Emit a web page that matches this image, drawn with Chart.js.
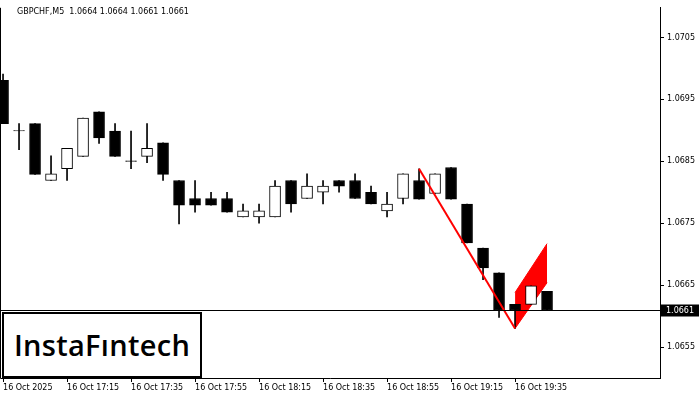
<!DOCTYPE html>
<html><head><meta charset="utf-8">
<script src="https://cdn.jsdelivr.net/npm/chart.js@4/dist/chart.umd.min.js"></script>
<style>
html,body{margin:0;padding:0;background:#fff;}
#wrap{position:relative;width:700px;height:400px;}
#logo{position:absolute;left:2px;top:312px;width:196px;height:62px;border:2px solid #000;background:#fff;
font-family:"Open Sans",sans-serif;font-weight:600;font-size:29px;line-height:62px;text-align:center;color:#000;letter-spacing:0.3px;}
</style></head><body>
<div id="wrap"><canvas id="c" width="700" height="400"></canvas><div id="logo">InstaFıntech</div></div>
<script>
const title = "GBPCHF,M5  1.0664 1.0664 1.0661 1.0661";
const timeLabels = {0:"16 Oct 2025",4:"16 Oct 17:15",8:"16 Oct 17:35",12:"16 Oct 17:55",16:"16 Oct 18:15",20:"16 Oct 18:35",24:"16 Oct 18:55",28:"16 Oct 19:15",32:"16 Oct 19:35"};
const opens  = [1.06981,1.06899,1.06911,1.06819,1.06838,1.06858,1.06930,1.06899,1.06850,1.06858,1.06880,1.06819,1.06790,1.06790,1.06790,1.06760,1.06760,1.06760,1.06819,1.06790,1.06800,1.06819,1.06819,1.06800,1.06770,1.06790,1.06819,1.06798,1.06840,1.06781,1.06710,1.06670,1.06619,1.06619,1.06640];
const highs  = [1.06991,1.06911,1.06911,1.06859,1.06871,1.06920,1.06930,1.06911,1.06899,1.06911,1.06880,1.06819,1.06819,1.06800,1.06800,1.06781,1.06781,1.06819,1.06819,1.06830,1.06819,1.06819,1.06830,1.06810,1.06800,1.06830,1.06838,1.06830,1.06840,1.06781,1.06710,1.06670,1.06619,1.06649,1.06640];
const lows   = [1.06911,1.06869,1.06829,1.06819,1.06819,1.06858,1.06879,1.06858,1.06838,1.06848,1.06819,1.06749,1.06768,1.06779,1.06768,1.06760,1.06750,1.06760,1.06768,1.06790,1.06781,1.06800,1.06790,1.06781,1.06760,1.06781,1.06789,1.06798,1.06789,1.06718,1.06659,1.06598,1.06580,1.06619,1.06609];
const closes = [1.06911,1.06899,1.06829,1.06830,1.06871,1.06920,1.06888,1.06858,1.06850,1.06871,1.06829,1.06779,1.06779,1.06779,1.06768,1.06770,1.06770,1.06810,1.06781,1.06810,1.06810,1.06810,1.06790,1.06781,1.06781,1.06830,1.06789,1.06830,1.06789,1.06718,1.06678,1.06609,1.06609,1.06649,1.06609];
const yTicks = [1.0655,1.0665,1.0675,1.0685,1.0695,1.0705];
const currentPrice = 1.0661;
const poleLine = [{x:26,y:1.06838},{x:32,y:1.06580}];
const flagTop = [{x:32,y:1.06638},{x:34,y:1.06717}];
const flagBottom = [{x:32,y:1.06580},{x:34,y:1.06654}];

const bodies = opens.map((o,i)=>{
  let lo=Math.min(o,closes[i]), hi=Math.max(o,closes[i]);
  if(hi-lo<0.00001){hi=lo+0.000008;}
  return {x:i,y:[lo,hi]};
});
const wicks = highs.map((h,i)=>({x:i,y:[lows[i],h]}));
const bodyColors = opens.map((o,i)=>closes[i]>o?'#ffffff':'#000000');
const font = {family:"Tahoma, 'DejaVu Sans', sans-serif", size:8};

const deco = {
  id:'deco',
  afterDraw(ch){
    const ctx=ch.ctx, a=ch.chartArea, y=ch.scales.y;
    ctx.save();
    ctx.strokeStyle='#000'; ctx.lineWidth=1;
    ctx.beginPath();
    ctx.moveTo(a.left+0.5,a.top); ctx.lineTo(a.left+0.5,a.bottom+0.5); ctx.lineTo(a.right,a.bottom+0.5);
    ctx.stroke();
    const py=Math.round(y.getPixelForValue(currentPrice))+0.5;
    ctx.beginPath(); ctx.moveTo(a.left,py); ctx.lineTo(a.right,py); ctx.stroke();
    ctx.fillStyle='#000'; ctx.fillRect(a.right+1,py-6,38,12);
    ctx.fillStyle='#fff'; ctx.font="8px Tahoma, 'DejaVu Sans', sans-serif";
    ctx.textBaseline='middle'; ctx.fillText(currentPrice.toFixed(4),a.right+6,py);
    ctx.fillStyle='#000'; ctx.textBaseline='middle';
    ctx.fillText(title,a.left+17,12);
    ctx.restore();
  }
};

new Chart(document.getElementById('c'),{
  type:'bar',
  data:{datasets:[
    {type:'line',data:poleLine,borderColor:'#ff0000',borderWidth:2,pointRadius:0,order:0},
    {type:'line',data:flagTop,borderColor:'#ff0000',borderWidth:1,pointRadius:0,order:3,fill:false},
    {type:'line',data:flagBottom,borderColor:'#ff0000',borderWidth:1,pointRadius:0,order:3,fill:'-1',backgroundColor:'#ff0000'},
    {data:bodies,backgroundColor:bodyColors,borderColor:'#000',borderWidth:1,borderSkipped:false,barThickness:11,grouped:false,order:1},
    {data:wicks,backgroundColor:'#000',borderWidth:0,barThickness:1,grouped:false,order:2}
  ]},
  options:{
    animation:false,responsive:false,
    layout:{padding:{top:5,left:0,right:0,bottom:0}},
    plugins:{legend:{display:false},tooltip:{enabled:false}},
    scales:{
      x:{type:'linear',min:-0.19,max:41.06,offset:false,bounds:'ticks',
        afterFit(s){s.height=22;},
        afterBuildTicks(s){s.ticks=Object.keys(timeLabels).map(k=>({value:+k}));},
        ticks:{callback:v=>timeLabels[v]||'',align:'start',maxRotation:0,autoSkip:false,color:'#000',font,padding:1},
        grid:{display:true,drawOnChartArea:false,tickLength:4,color:'#000',offset:false},border:{display:false}},
      y:{position:'right',min:1.06500,max:1.07098,
        afterFit(s){s.width=40;},
        afterBuildTicks(s){s.ticks=yTicks.map(v=>({value:v}));},
        ticks:{callback:v=>v.toFixed(4),color:'#000',font,padding:3},
        grid:{display:true,drawOnChartArea:false,tickLength:4,color:'#000'},
        border:{display:true,color:'#000'}}
    }
  },
  plugins:[deco]
});
</script></body></html>
